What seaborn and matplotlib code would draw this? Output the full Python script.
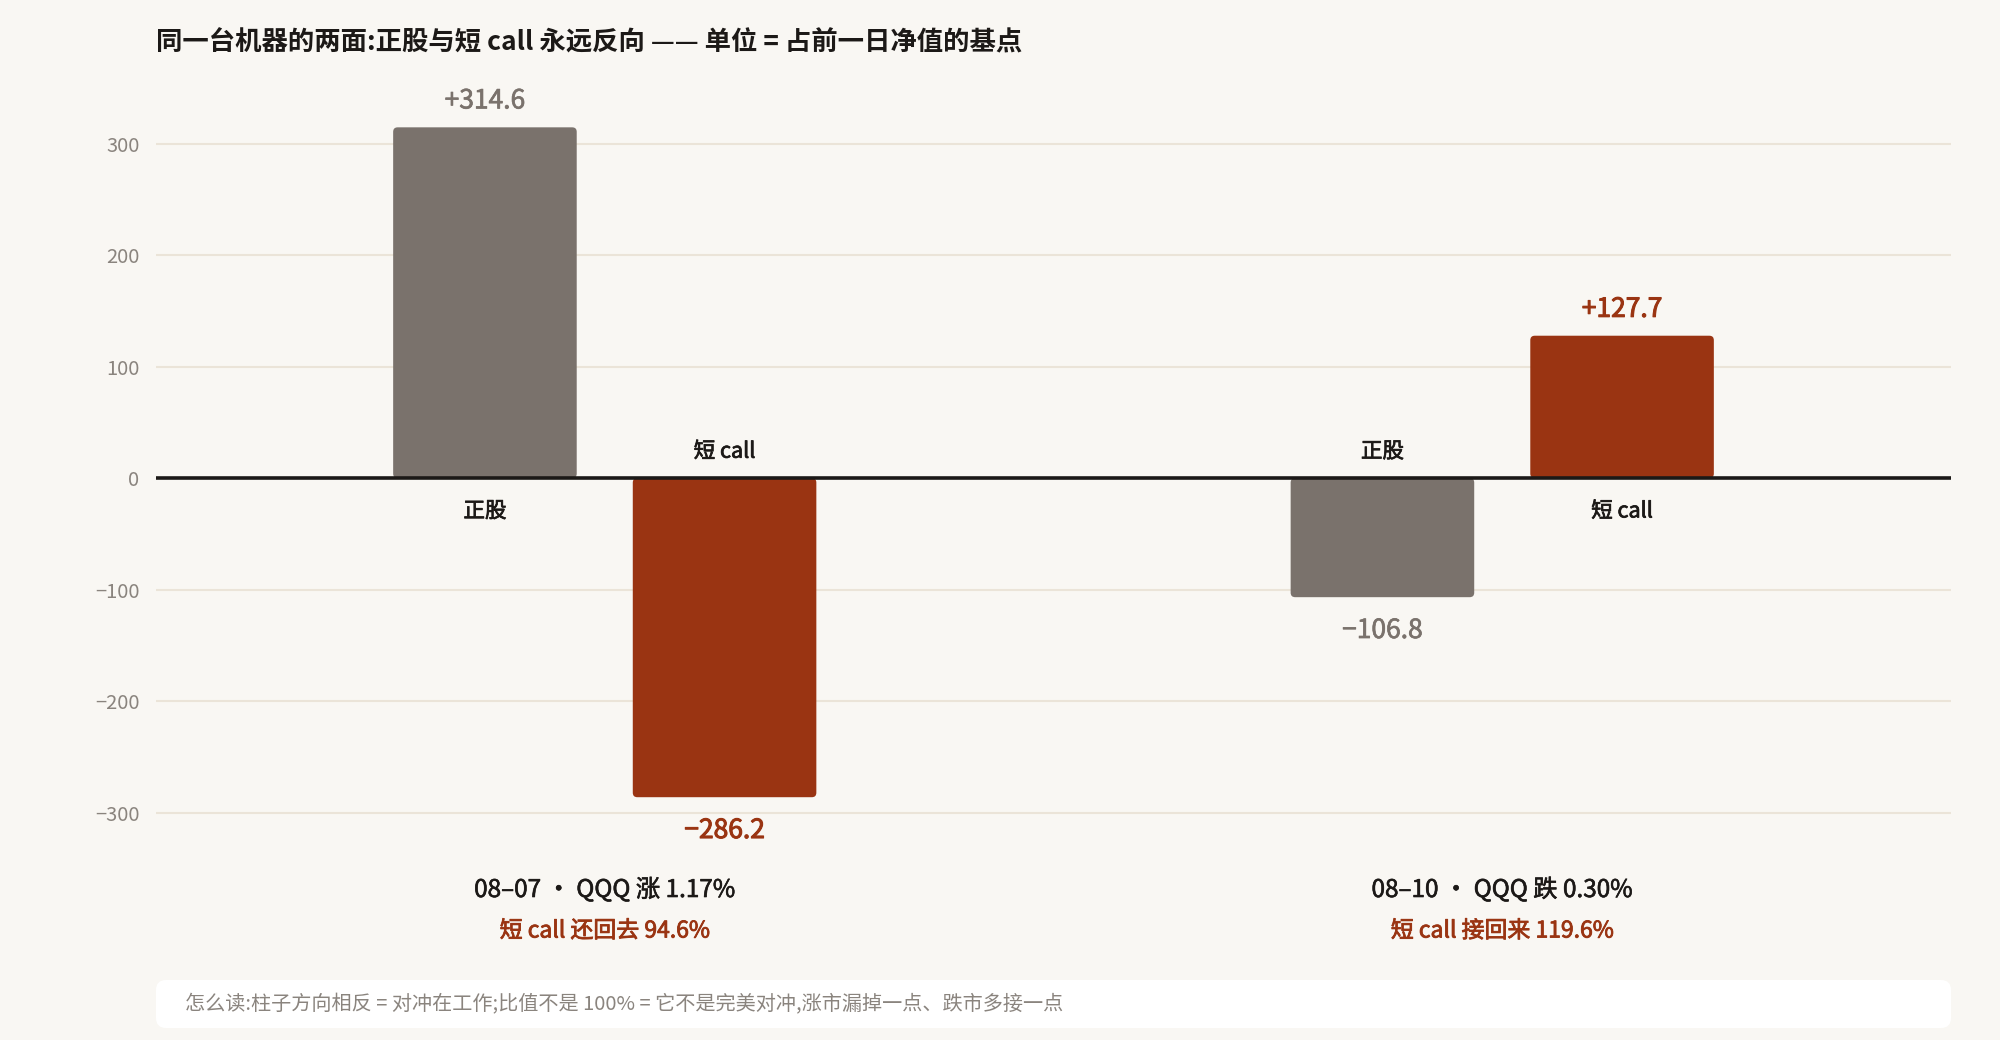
import matplotlib
matplotlib.use("Agg")
import matplotlib.pyplot as plt
import matplotlib.patheffects as pe
import matplotlib.transforms as mtransforms
from matplotlib.patches import FancyBboxPatch
import pandas as pd
import seaborn as sns

# data: basis points of prior-day NAV
dates = ["08-07", "08-10"]
qqq_moves = ["涨 1.17%", "跌 0.30%"]
legs = ["正股", "短 call"]
stock_bp = [314.6, -106.8]
call_bp = [-286.2, 127.7]
call_notes = ["短 call 还回去 94.6%", "短 call 接回来 119.6%"]
y_ticks = [-300, -200, -100, 0, 100, 200, 300]

BG = "#f9f7f3"
GREY = "#7a726c"
RUST = "#9a3412"
INK = "#1c1917"
MUTED = "#8a847e"
FONTS = ["Noto Sans CJK SC", "DejaVu Sans"]

sns.set_theme(style="white")
plt.rcParams["font.family"] = FONTS
plt.rcParams["axes.unicode_minus"] = True


def heavier(color, lw):
    # fake a medium weight: the CJK font only ships regular and bold here
    return [pe.withStroke(linewidth=lw, foreground=color)]


df = pd.DataFrame({
    "date": dates * 2,
    "leg": [legs[0]] * 2 + [legs[1]] * 2,
    "bp": stock_bp + call_bp,
})

fig = plt.figure(figsize=(20, 10.4), dpi=100, facecolor=BG)
ax = fig.add_axes([0.078, 0.1865, 0.8975, 0.7183])
ax.set_facecolor(BG)

sns.barplot(data=df, x="date", y="bp", hue="leg", order=dates, hue_order=legs,
            palette={legs[0]: GREY, legs[1]: RUST}, saturation=1,
            width=0.534, gap=0.234, legend=False, ax=ax, zorder=3)

ax.set_xlim(-0.5, 1.5)
ax.set_ylim(-330, 340)
ax.set_yticks(y_ticks)
ax.set_yticklabels([f"{t}".replace("-", "\u2212") for t in y_ticks])
ax.tick_params(axis="y", length=0, pad=12, labelsize=14.5, labelcolor=MUTED)
ax.tick_params(axis="x", length=0, labelbottom=False)
ax.set_xlabel("")
ax.set_ylabel("")
for s in ax.spines.values():
    s.set_visible(False)
ax.yaxis.grid(True, color="#ebe4d8", linewidth=1.5, zorder=0)
ax.set_axisbelow(True)
ax.axhline(0, color=INK, linewidth=2.6, zorder=5)

# rounded bars in place of the plain rectangles
fig.canvas.draw()
x_px = ax.transData.transform([[0, 0], [1, 0]])
y_px = ax.transData.transform([[0, 0], [0, 1]])
aspect = abs(x_px[1][0] - x_px[0][0]) / abs(y_px[1][1] - y_px[0][1])
for container in ax.containers:
    for p in container.patches:
        p.set_visible(False)
        rb = FancyBboxPatch((p.get_x(), min(p.get_y(), p.get_y() + p.get_height())),
                            p.get_width(), abs(p.get_height()),
                            boxstyle="round,pad=0,rounding_size=0.005",
                            mutation_aspect=aspect, facecolor=p.get_facecolor(),
                            edgecolor="none", zorder=3)
        ax.add_patch(rb)

# value and leg labels
for ci, (vals, color) in enumerate([(stock_bp, GREY), (call_bp, RUST)]):
    for p, v in zip(ax.containers[ci].patches, vals):
        cx = p.get_x() + p.get_width() / 2
        sign = "+" if v > 0 else "\u2212"
        off = 19 if v > 0 else -24
        ax.annotate(f"{sign}{abs(v):.1f}", (cx, v), xytext=(0, off),
                    textcoords="offset points", ha="center", va="center",
                    fontsize=19, color=color, zorder=6,
                    path_effects=heavier(color, 0.75 if ci else 0.5))
        loff = -24 if v > 0 else 19
        ax.annotate(legs[ci], (cx, 0), xytext=(0, loff), textcoords="offset points",
                    ha="center", va="center", fontsize=15.5, color=INK, zorder=6,
                    path_effects=heavier(INK, 0.55))

# category captions under each group
trans = mtransforms.blended_transform_factory(ax.transData, fig.transFigure)
for i, (d, m, note) in enumerate(zip(dates, qqq_moves, call_notes)):
    ax.text(i, 1 - 890 / 1040, f"{d.replace('-', '–')} · QQQ {m}", transform=trans,
            ha="center", va="center", fontsize=17.5, color=INK, clip_on=False,
            path_effects=heavier(INK, 0.45))
    ax.text(i, 1 - 931 / 1040, note, transform=trans, ha="center", va="center",
            fontsize=16.5, color=RUST, clip_on=False,
            path_effects=heavier(RUST, 0.6))

fig.text(0.078, 1 - 43 / 1040, "同一台机器的两面:正股与短 call 永远反向 —— 单位 = 占前一日净值的基点",
         ha="left", va="center", fontsize=19, fontweight="bold", color=INK)

# reading-guide box
box = FancyBboxPatch((0.078, 1 - 1028 / 1040), 0.8975, 48 / 1040,
                     boxstyle="round,pad=0,rounding_size=0.005",
                     mutation_aspect=2000 / 1040, transform=fig.transFigure,
                     facecolor="white", edgecolor="none")
fig.patches.append(box)
fig.text(185 / 2000, 1 - 1005 / 1040,
         "怎么读:柱子方向相反 = 对冲在工作;比值不是 100% = 它不是完美对冲,涨市漏掉一点、跌市多接一点",
         ha="left", va="center", fontsize=14.5, color=MUTED)

fig.savefig("out.png", dpi=100, facecolor=BG)
